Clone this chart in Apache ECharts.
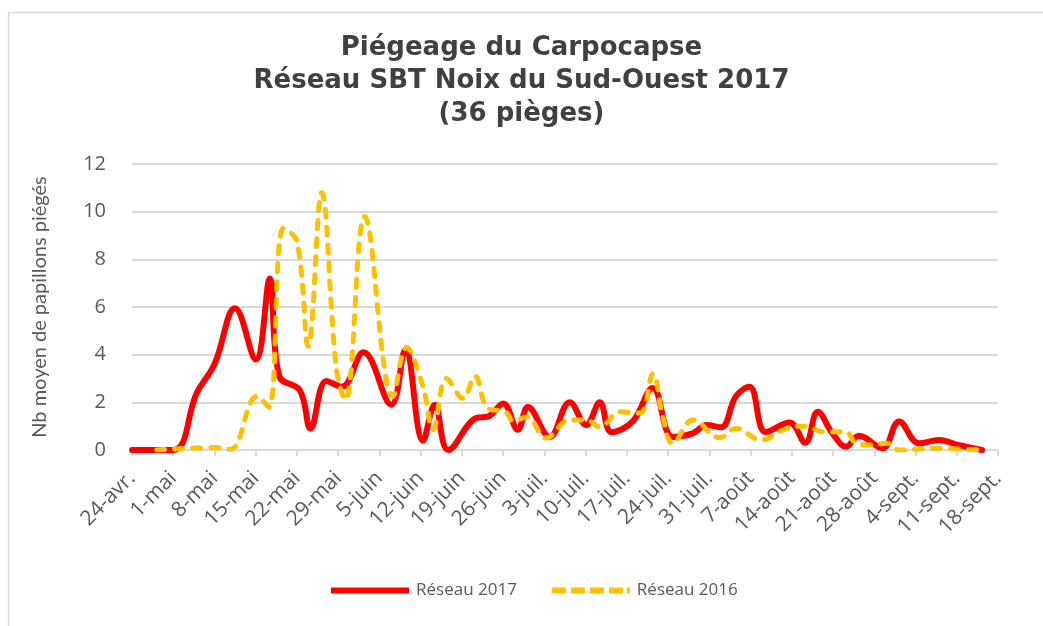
<!DOCTYPE html>
<html>
<head>
<meta charset="utf-8">
<script src="https://cdn.jsdelivr.net/npm/echarts@6/dist/echarts.min.js"></script>
<style>html,body{margin:0;padding:0;background:#fff;}#c{width:1043px;height:626px;}</style>
</head>
<body>
<div id="c"></div>
<script>
// Tick labels (one per week, day 0 = 24 avril)
const tickLabels = ['24-avr.','1-mai','8-mai','15-mai','22-mai','29-mai','5-juin','12-juin','19-juin','26-juin','3-juil.','10-juil.','17-juil.','24-juil.','31-juil.','7-août','14-août','21-août','28-août','4-sept.','11-sept.','18-sept.'];

// Réseau 2017 : day offsets from 24-avr. and mean catches
const days2017 = [0,7,11,14,17.5,21,23.4,25,28.5,30.3,33,35.6,39.3,44,46.4,49.4,51.4,53.7,58.5,60.4,63,65.5,67.2,70.9,74.3,77.1,79.4,81.4,85,88.4,91.8,95.2,97.5,100,102.5,104.8,107.6,111.6,114.3,116.4,118.9,121.2,123.4,127.4,130.2,133.6,137,140.4,144.3];
const values2017 = [0,0,2.4,3.6,5.95,3.8,7.2,3.1,2.5,0.9,2.9,2.65,4.1,1.9,4.2,0.4,1.9,0,1.35,1.4,1.95,0.85,1.8,0.55,2.0,1.05,2.0,0.75,1.2,2.6,0.55,0.7,1.05,0.95,2.25,2.65,0.75,1.15,0.3,1.6,0.7,0.14,0.6,0.07,1.2,0.28,0.42,0.2,0];

// Réseau 2016
const days2016 = [4.2,14.4,16.7,21.2,23.2,25.7,28,29.9,32.2,34.7,36.2,39.5,44.3,46.6,49.4,51.1,53.4,56.2,58.2,60.4,63.4,64.8,67,70.3,74.3,77.1,79.4,82.8,86.2,88.4,90.1,91.8,95.2,99.8,102.5,106.8,111,114.4,117.2,121.2,122.6,125.1,128.2,130.2,135.9,143.8];
const values2016 = [0,0.1,0.03,2.25,1.8,9.3,8.75,4.35,10.8,3.4,2.1,9.8,2.25,4.3,2.65,0.85,3.0,2.17,3.1,1.75,1.6,1.2,1.4,0.5,1.26,1.26,0.98,1.6,1.55,3.2,1.4,0.28,1.26,0.52,0.9,0.42,0.9,1.0,0.77,0.77,0.35,0.21,0.28,0,0.07,0];

const seriesNames = ['Réseau 2017','Réseau 2016'];
const pair = (d, v) => d.map((x, i) => [x, v[i]]);

const solidIcon = 'path://M0,0h78v6h-78z';
const dashIcon = 'path://M0,0h14v6h-14z M19,0h14v6h-14z M38,0h14v6h-14z M57,0h14v6h-14z M75,0h3v6h-3z';
const labelFont = '"Open Sans", Lato, sans-serif';

const chart = echarts.init(document.getElementById('c'), null, {renderer:'canvas'});
chart.setOption({
  backgroundColor: '#fff',
  animation: false,
  graphic: [{
    type: 'rect', left: 6, top: 10, silent: true,
    shape: {width: 1100, height: 700},
    style: {fill: 'none', stroke: '#D9D9D9', lineWidth: 1.5}
  }],
  title: {
    text: 'Piégeage du Carpocapse\nRéseau SBT Noix du Sud-Ouest 2017\n(36 pièges)',
    left: 'center', top: 27,
    textStyle: {fontFamily: '"DejaVu Sans", sans-serif', fontWeight: 'bold', fontSize: 26, lineHeight: 33, color: '#404040'}
  },
  legend: {
    bottom: 22, left: 326,
    itemWidth: 78, itemHeight: 6, itemGap: 35,
    textStyle: {fontFamily: labelFont, fontSize: 17, color: '#595959', padding: [0, 0, 0, 2]},
    data: [{name: seriesNames[0], icon: solidIcon}, {name: seriesNames[1], icon: dashIcon}]
  },
  grid: {left: 132, right: 45, top: 164, bottom: 176},
  xAxis: {
    type: 'value', min: 0, max: 147, interval: 7,
    axisLine: {show: true, lineStyle: {color: '#D9D9D9', width: 2}},
    axisTick: {show: true, length: 6, lineStyle: {color: '#D9D9D9', width: 2}},
    splitLine: {show: false},
    axisLabel: {
      rotate: 45, margin: 25, fontFamily: labelFont, fontSize: 21, color: '#595959',
      formatter: v => tickLabels[Math.round(v / 7)] || ''
    }
  },
  yAxis: {
    type: 'value', min: 0, max: 12, interval: 2,
    name: 'Nb moyen de papillons piégés', nameLocation: 'middle', nameGap: 82, nameRotate: 90,
    nameTextStyle: {fontFamily: 'Lato, sans-serif', fontSize: 20, color: '#595959'},
    axisLine: {show: false}, axisTick: {show: false},
    splitLine: {lineStyle: {color: '#D9D9D9', width: 2}},
    axisLabel: {margin: 26, fontFamily: labelFont, fontSize: 20, color: '#595959'}
  },
  series: [
    {
      name: seriesNames[0], type: 'line', data: pair(days2017, values2017),
      smooth: 0.4, showSymbol: false, symbol: 'none', z: 2,
      lineStyle: {color: '#FF0000', width: 6, cap: 'round', join: 'round'},
      itemStyle: {color: '#FF0000'}
    },
    {
      name: seriesNames[1], type: 'line', data: pair(days2016, values2016),
      smooth: 0.4, showSymbol: false, symbol: 'none', z: 3,
      lineStyle: {color: '#FFC000', width: 5, type: [8, 10], cap: 'round', join: 'round'},
      itemStyle: {color: '#FFC000'}
    }
  ]
});
</script>
</body>
</html>
